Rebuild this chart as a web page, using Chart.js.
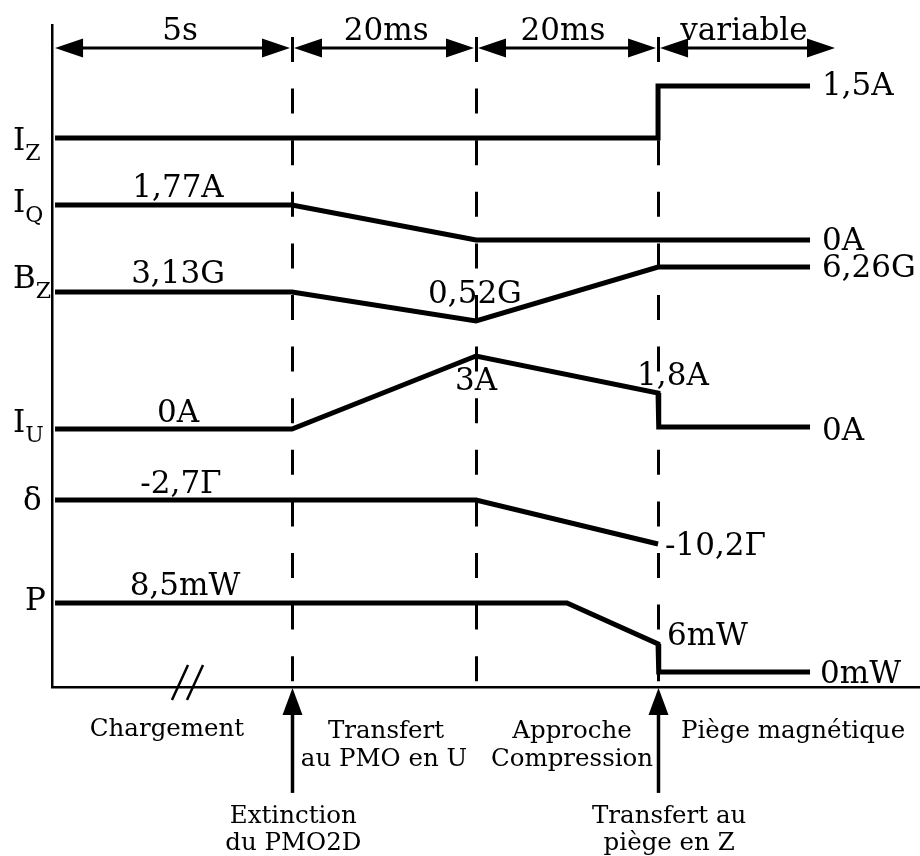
<!DOCTYPE html>
<html>
<head>
<meta charset="utf-8">
<script src="https://cdn.jsdelivr.net/npm/chart.js@4"></script>
<style>
html,body{margin:0;padding:0;background:#fff;}
canvas{display:block;}
</style>
</head>
<body>
<canvas id="c" width="920" height="856"></canvas>
<script>
// Schematic time axis (arbitrary diagram units) and schematic signal levels
const phaseEdges = [0.35, 27.65, 48.85, 69.82, 87.33];
const phaseLabels = ['5s', '20ms', '20ms', 'variable'];
const phaseLabelX = [14.75, 38.5, 58.87, 79.72];
const arrowSpans = [[0.35, 27.42], [27.88, 48.62], [49.08, 69.59], [70.05, 90.21]];

const IZ_t = [0.35, 69.82, 69.82, 87.33];
const IZ_v = [82.93, 82.93, 90.79, 90.79];
const IQ_t = [0.35, 27.65, 48.85, 87.33];
const IQ_v = [72.81, 72.81, 67.52, 67.52];
const BZ_t = [0.35, 27.65, 48.85, 69.82, 87.33];
const BZ_v = [59.67, 59.67, 55.29, 63.44, 63.44];
const IU_t = [0.35, 27.65, 48.85, 69.82, 69.9, 87.33];
const IU_v = [38.97, 38.97, 50.0, 44.41, 39.27, 39.27];
const D_t = [0.35, 48.85, 69.82];
const D_v = [28.25, 28.25, 21.6];
const P_t = [0.35, 59.33, 69.82, 69.9, 87.33];
const P_v = [12.69, 12.69, 6.5, 2.27, 2.27];

const sigNames = ['I', 'I', 'B', 'I', 'δ', 'P'];
const sigSubs = ['Z', 'Q', 'Z', 'U', '', ''];
const sigNameX = [-4.49, -4.49, -4.49, -4.49, -3.34, -3.11];
const sigNameY = [81.12, 71.75, 60.27, 38.52, 26.74, 11.63];

const valTexts = ['1,5A', '1,77A', '0A', '3,13G', '0,52G', '6,26G', '0A', '3A', '1,8A', '0A', '-2,7Γ', '-10,2Γ', '8,5mW', '6mW', '0mW'];
const valX = [88.71, 14.52, 88.71, 14.52, 48.73, 88.71, 14.52, 48.85, 71.54, 88.71, 14.86, 70.62, 15.32, 70.85, 88.48];
const valY = [89.43, 74.02, 66.01, 61.03, 58.01, 61.93, 40.03, 44.86, 45.62, 37.31, 29.31, 19.94, 13.90, 6.34, 0.60];
const valAlign = ['left', 'center', 'left', 'center', 'center', 'left', 'center', 'center', 'center', 'left', 'center', 'left', 'center', 'left', 'left'];

const phaseNames = ['Chargement', 'Transfert', 'au PMO en U', 'Approche', 'Compression', 'Piège magnétique'];
const phaseNameX = [13.25, 38.48, 38.25, 59.91, 59.91, 85.37];
const phaseNameY = [-7.4, -7.7, -11.93, -7.7, -11.93, -7.7];

const eventEdges = [27.65, 69.82];
const eventTexts = [['Extinction', 'du PMO2D'], ['Transfert au', 'piège en Z']];
const eventTextX = [27.8, 71.1];
const eventTextY = [-20.54, -24.62];
const eventTail = -16.0;

const dashTop = 98.19;
const arrowRowY = 96.53;
const phaseLabelY = 97.73;
const breakX = [13.82, 15.55];
const breakY = [-1.96, 3.32];

const SERIF = '"DejaVu Serif", serif';

function pts(t, v) { return t.map((x, i) => ({x: x, y: v[i]})); }

function ds(t, v) {
  return {data: pts(t, v), borderColor: '#000', borderWidth: 5, pointRadius: 0, showLine: true, fill: false, tension: 0, borderCapStyle: 'butt', borderJoinStyle: 'miter'};
}

const overlay = {
  id: 'overlay',
  beforeDatasetsDraw(chart) {
    const {ctx, scales: {x, y}} = chart;
    ctx.save();
    ctx.strokeStyle = '#000';
    ctx.lineWidth = 3;
    ctx.setLineDash([25, 26.6]);
    const top = y.getPixelForValue(dashTop), bot = y.getPixelForValue(0);
    phaseEdges.slice(1, 4).forEach(t => {
      const px = Math.round(x.getPixelForValue(t)) + 0.5;
      ctx.beginPath(); ctx.moveTo(px, top); ctx.lineTo(px, bot); ctx.stroke();
    });
    ctx.restore();
  },
  afterDatasetsDraw(chart) {
    const {ctx, scales: {x, y}} = chart;
    ctx.save();
    ctx.fillStyle = '#000';
    ctx.strokeStyle = '#000';
    // top double arrows
    const ay = y.getPixelForValue(arrowRowY);
    arrowSpans.forEach(s => {
      const a = x.getPixelForValue(s[0]), b = x.getPixelForValue(s[1]);
      ctx.lineWidth = 3;
      ctx.beginPath(); ctx.moveTo(a + 20, ay); ctx.lineTo(b - 20, ay); ctx.stroke();
      ctx.beginPath(); ctx.moveTo(a, ay); ctx.lineTo(a + 28, ay - 9.5); ctx.lineTo(a + 28, ay + 9.5); ctx.closePath(); ctx.fill();
      ctx.beginPath(); ctx.moveTo(b, ay); ctx.lineTo(b - 28, ay - 9.5); ctx.lineTo(b - 28, ay + 9.5); ctx.closePath(); ctx.fill();
    });
    // phase duration labels
    ctx.font = '31px ' + SERIF;
    ctx.textAlign = 'center'; ctx.textBaseline = 'alphabetic';
    phaseLabels.forEach((t, i) => ctx.fillText(t, x.getPixelForValue(phaseLabelX[i]), y.getPixelForValue(phaseLabelY)));
    // value labels
    valTexts.forEach((t, i) => {
      ctx.textAlign = valAlign[i];
      ctx.fillText(t, x.getPixelForValue(valX[i]), y.getPixelForValue(valY[i]));
    });
    // signal names with subscripts
    sigNames.forEach((n, i) => {
      const px = x.getPixelForValue(sigNameX[i]), py = y.getPixelForValue(sigNameY[i]);
      ctx.font = '31px ' + SERIF; ctx.textAlign = 'left';
      ctx.fillText(n, px, py);
      if (sigSubs[i]) {
        const w = ctx.measureText(n).width;
        ctx.font = '22px ' + SERIF;
        ctx.fillText(sigSubs[i], px + w, py + 10);
      }
    });
    // bottom phase names
    ctx.font = '24.5px ' + SERIF; ctx.textAlign = 'center';
    phaseNames.forEach((t, i) => ctx.fillText(t, x.getPixelForValue(phaseNameX[i]), y.getPixelForValue(phaseNameY[i])));
    // event arrows
    eventEdges.forEach((t, i) => {
      const px = Math.round(x.getPixelForValue(t)) + 0.5;
      const tip = y.getPixelForValue(0) + 1, tail = y.getPixelForValue(eventTail);
      ctx.lineWidth = 3.5;
      ctx.beginPath(); ctx.moveTo(px, tip + 20); ctx.lineTo(px, tail); ctx.stroke();
      ctx.beginPath(); ctx.moveTo(px, tip); ctx.lineTo(px - 10, tip + 27); ctx.lineTo(px + 10, tip + 27); ctx.closePath(); ctx.fill();
      eventTexts[i].forEach((line, j) => ctx.fillText(line, x.getPixelForValue(eventTextX[i]), y.getPixelForValue(eventTextY[j])));
    });
    // axis break marks
    ctx.lineWidth = 2.5;
    breakX.forEach(bx => {
      ctx.beginPath();
      ctx.moveTo(x.getPixelForValue(bx), y.getPixelForValue(breakY[0]));
      ctx.lineTo(x.getPixelForValue(bx + 1.85), y.getPixelForValue(breakY[1]));
      ctx.stroke();
    });
    ctx.restore();
  }
};

new Chart(document.getElementById('c'), {
  type: 'scatter',
  data: {
    datasets: [ds(IZ_t, IZ_v), ds(IQ_t, IQ_v), ds(BZ_t, BZ_v), ds(IU_t, IU_v), ds(D_t, D_v), ds(P_t, P_v)]
  },
  options: {
    responsive: false,
    animation: false,
    devicePixelRatio: 1,
    layout: {padding: {left: 52, top: 25, right: 0, bottom: 169}},
    plugins: {legend: {display: false}, tooltip: {enabled: false}, title: {display: false}},
    scales: {
      x: {type: 'linear', min: 0, max: 100, grid: {display: false, drawTicks: false, tickLength: 0}, ticks: {display: false, padding: 0}, border: {display: true, color: '#000', width: 2.5}},
      y: {type: 'linear', min: 0, max: 100, grid: {display: false, drawTicks: false, tickLength: 0}, ticks: {display: false, padding: 0}, border: {display: true, color: '#000', width: 2.5}}
    }
  },
  plugins: [overlay]
});
</script>
</body>
</html>
